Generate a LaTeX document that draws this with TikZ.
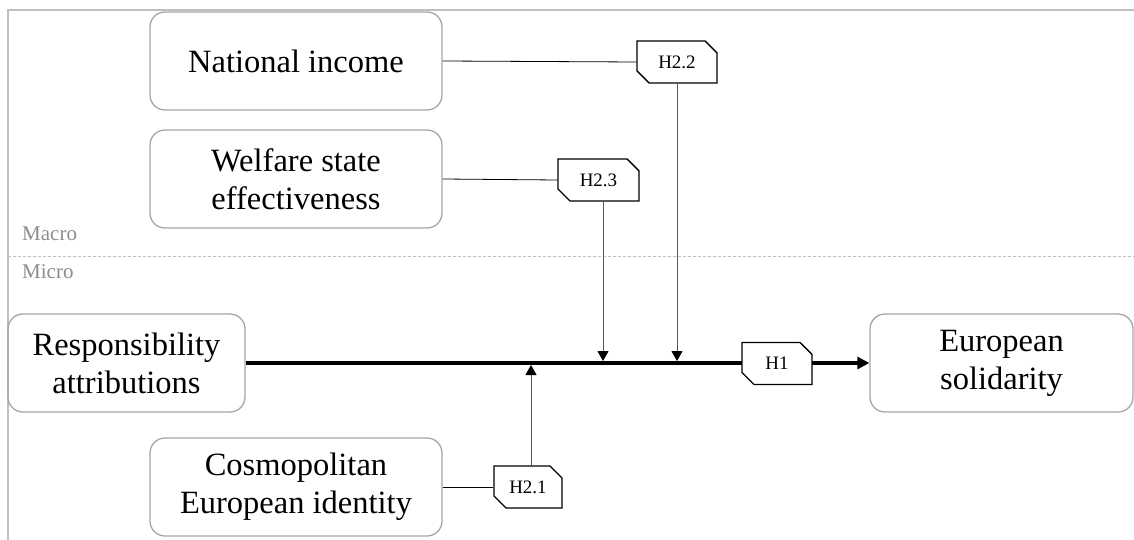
\documentclass[tikz,border=0pt]{standalone}
\usepackage{fontspec}
\setmainfont{Liberation Serif}
\usetikzlibrary{shapes.misc,arrows.meta,calc}
\definecolor{boxgray}{HTML}{A6A6A6}
\definecolor{txtgray}{HTML}{8C8C8C}
\definecolor{linegray}{HTML}{BFBFBF}
\definecolor{vgray}{HTML}{595959}
\tikzset{
  box/.style={draw=boxgray, line width=1.3pt, rounded corners=15pt, align=center,
    minimum width=292pt, minimum height=98pt, inner sep=0pt,
    font=\fontsize{32.5}{38}\selectfont},
  lab/.style={chamfered rectangle, chamfered rectangle corners={north east,south west},
    chamfered rectangle xsep=6pt, chamfered rectangle ysep=6pt,
    draw=black, line width=1.4pt, fill=white, inner sep=0pt,
    minimum height=42pt, font=\fontsize{19}{21}\selectfont},
  hline/.style={draw=black, line width=0.8pt},
  vline/.style={draw=vgray, line width=1pt, -{Triangle[width=11pt,length=10pt,color=black]}},
  mainline/.style={draw=black, line width=4pt, -{Triangle[width=12pt,length=12pt]}},
  level/.style={text=txtgray, font=\fontsize{21}{24}\selectfont, anchor=base west, inner sep=0pt}
}
\begin{document}
\begin{tikzpicture}[x=1pt,y=-1pt]
\useasboundingbox (0,0) rectangle (1134,540);
% frame
\draw[linegray, line width=1.2pt] (1134,10) -- (8,10) -- (8,540);
\draw[linegray, line width=0.8pt, dash pattern=on 3pt off 2pt] (8,256) -- (1134,256);
\node[level] (macro) at (22,240) {Macro};
\node[level] (micro) at (22,278) {Micro};
% boxes
\node[box] (ni) at (296,61) {National income};
\node[box] (ws) at (296,179) {Welfare state\\effectiveness};
\node[box, minimum width=237pt] (ra) at (126.5,363) {Responsibility\\attributions};
\node[box] (ce) at (296,487) {Cosmopolitan\\European identity};
\node[box, minimum width=263pt] (es) at (1001.5,363) {European\\solidarity};
% main line
\draw[mainline] (ra.east) -- (es.west);
% labels
\node[lab, minimum width=70pt] (h1) at (777,363.5) {H1};
\node[lab, minimum width=80pt] (h22) at (677,62) {H2.2};
\node[lab, minimum width=81pt] (h23) at (598.5,180) {H2.3};
\node[lab, minimum width=68pt] (h21) at (528,487) {H2.1};
% target points on the main line
\coordinate (t22) at (677,361);
\coordinate (t23) at (603,361);
\coordinate (t21) at (531,365);
% connectors
\draw[hline] (ni.east) -- (h22.west);
\draw[hline] (ws.east) -- (h23.west);
\draw[hline] (ce.east) -- (h21.west);
\draw[vline] (h22.south) -- (t22);
\draw[vline] ($(h23.south)+(4.5,0)$) -- (t23);
\draw[vline] ($(h21.north)+(3,0)$) -- (t21);
\end{tikzpicture}
\end{document}
